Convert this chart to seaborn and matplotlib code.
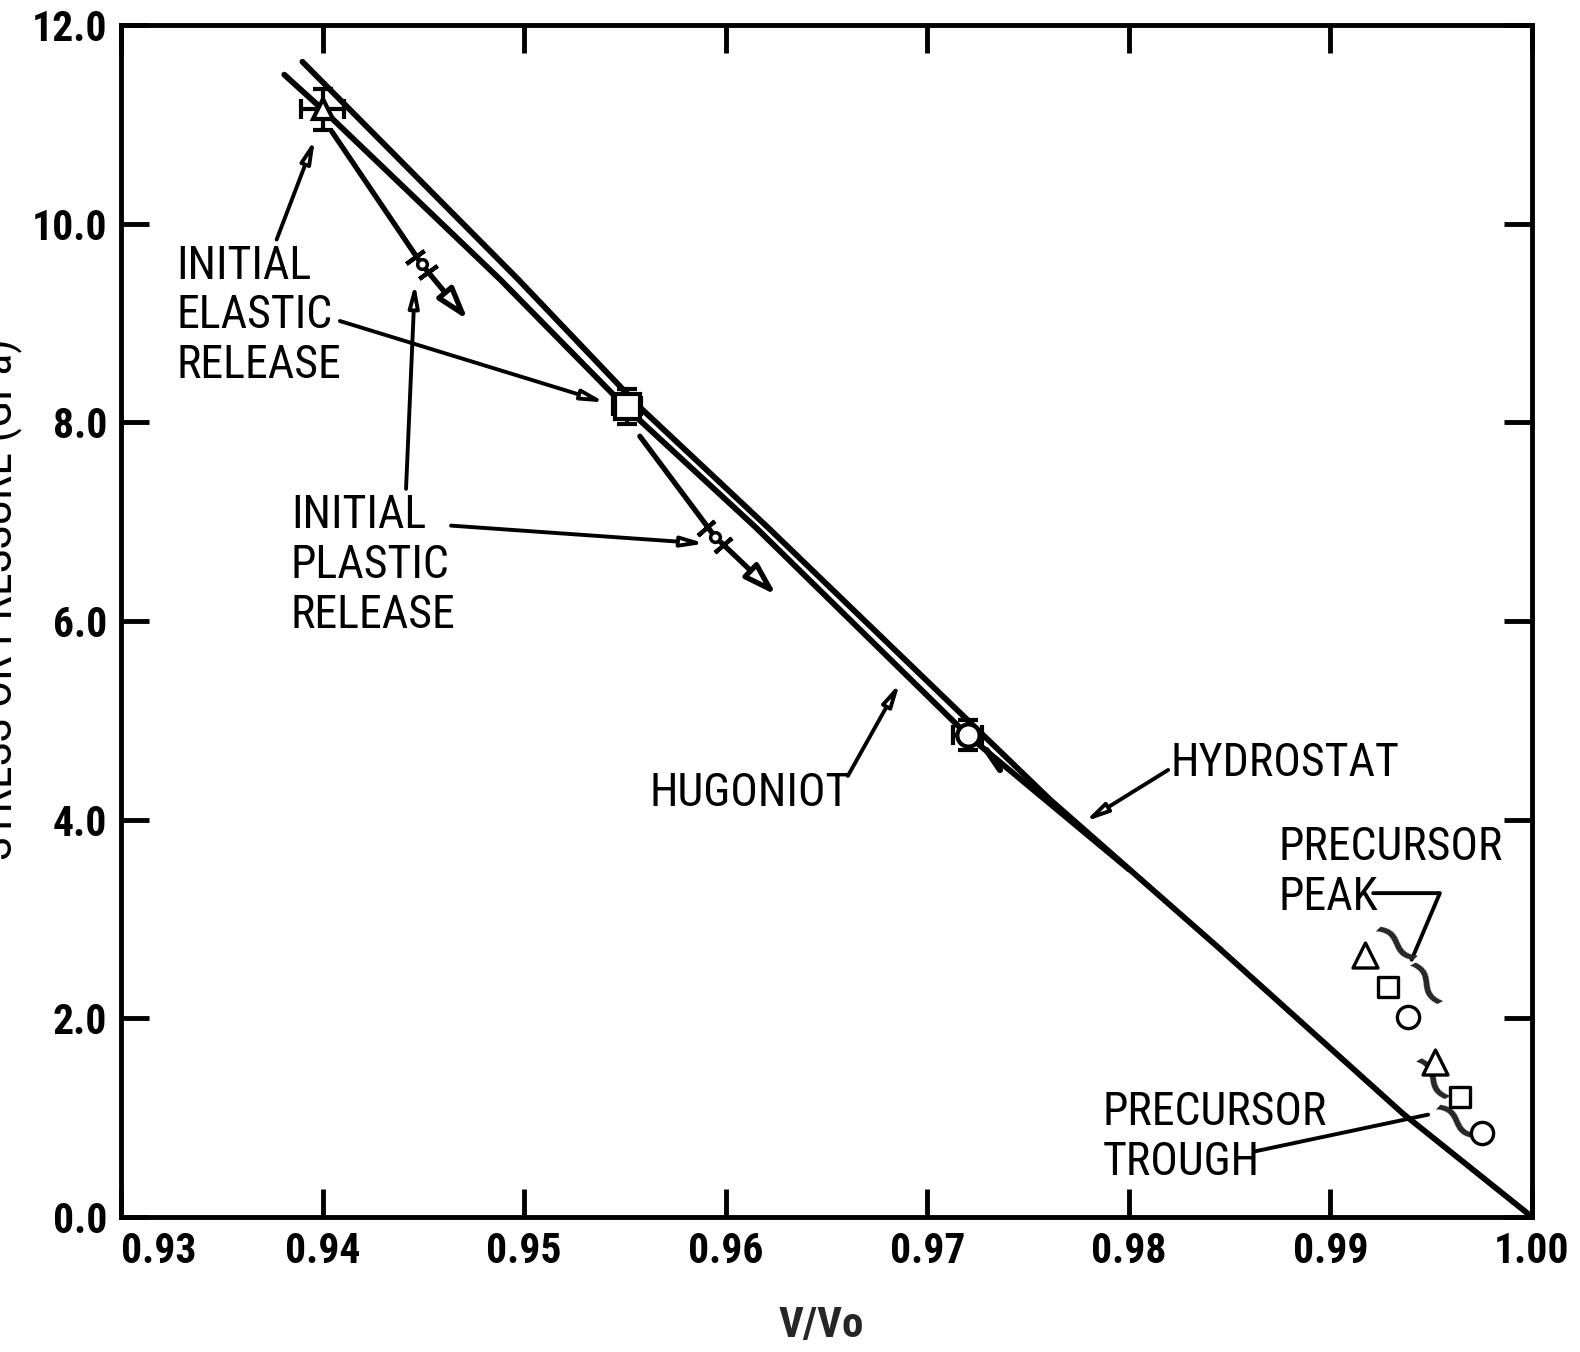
#!/usr/bin/env python3
"""Stress / pressure vs V/Vo : hugoniot, hydrostat, release paths and precursor states."""

import numpy as np
import matplotlib

matplotlib.use("Agg")
import matplotlib.pyplot as plt
import seaborn as sns

# --- data ---
hydro_x = [0.9390, 0.9497, 0.9558, 0.9621, 0.9761, 0.9844, 0.9936, 1.0000]
hydro_y = [11.63, 9.44, 8.14, 6.94, 4.20, 2.72, 1.04, 0.00]

hug_x = [0.9381, 0.9400, 0.9488, 0.9551, 0.9615, 0.9720, 0.9800]
hug_y = [11.50, 11.15, 9.44, 8.14, 6.94, 4.85, 3.50]

# shock states (triangle, square, circle) with error bars
state_x = [0.9400, 0.9551, 0.9720]
state_y = [11.15, 8.16, 4.85]
state_xerr = [0.00107, 0.0007, 0.0007]
state_yerr = [0.21, 0.18, 0.15]
state_marker = ["^", "s", "o"]
state_size = [15, 18, 16]

# release paths: start, initial plastic release point, arrow tip
rel1_x = [0.94045, 0.94492, 0.94721]
rel1_y = [10.93, 9.59, 9.03]
rel2_x = [0.95574, 0.95946, 0.96252]
rel2_y = [7.86, 6.85, 6.26]
rel3_x = [0.97294, 0.97361]
rel3_y = [4.70, 4.50]

# precursor states
peak_x = [0.99171, 0.99285, 0.99384]
peak_y = [2.64, 2.31, 2.01]
trough_x = [0.99518, 0.99642, 0.99751]
trough_y = [1.56, 1.21, 0.85]
prec_marker = ["^", "s", "o"]
prec_size = [18, 14.5, 16]

xticks = [0.93, 0.94, 0.95, 0.96, 0.97, 0.98, 0.99, 1.00]
xticklabels = ["0.93", "0.94", "0.95", "0.96", "0.97", "0.98", "0.99", "1.00"]
yticks = [0, 2, 4, 6, 8, 10, 12]
yticklabels = ["0.0", "2.0", "4.0", "6.0", "8.0", "10.0", "12.0"]

sns.set_theme(style="ticks")
plt.rcParams["font.family"] = ["Roboto Condensed", "Roboto", "DejaVu Sans"]
plt.rcParams["font.stretch"] = "condensed"

fig = plt.figure(figsize=(15.8, 13.52), dpi=100)
ax = fig.add_axes([0.0766, 0.0999, 0.8930, 0.8816])
ax.set_xlim(0.93, 1.00)
ax.set_ylim(0, 12)

# curves
sns.lineplot(x=hydro_x, y=hydro_y, ax=ax, color="black", lw=4.2, sort=False,
             estimator=None, zorder=3)
sns.lineplot(x=hug_x, y=hug_y, ax=ax, color="black", lw=4.2, sort=False,
             estimator=None, zorder=3)

# release paths
arrow_kw = dict(arrowstyle="-|>,head_length=1.6,head_width=0.5", lw=3.8,
                ec="black", fc="white", shrinkA=0, shrinkB=0)
for rx, ry in [(rel1_x, rel1_y), (rel2_x, rel2_y)]:
    sns.lineplot(x=rx[:2], y=ry[:2], ax=ax, color="black", lw=3.8, sort=False,
                 estimator=None, zorder=3)
    ax.annotate("", xy=(rx[2], ry[2]), xytext=(rx[1], ry[1]),
                arrowprops=arrow_kw, zorder=3)
    # small release point with cross ticks
    p0 = ax.transData.transform((rx[0], ry[0]))
    p2 = ax.transData.transform((rx[2], ry[2]))
    ang = np.degrees(np.arctan2(p2[1] - p0[1], p2[0] - p0[0]))
    dx = 0.14 * (rx[2] - rx[1])
    dy = 0.14 * (ry[2] - ry[1])
    ax.plot([rx[1] - dx, rx[1] + dx], [ry[1] - dy, ry[1] + dy], ls="none",
            marker=(2, 2, ang), ms=16, mew=3, color="black", zorder=5)
    ax.plot(rx[1], ry[1], marker="o", ms=7, mfc="white", mec="black", mew=2.5,
            ls="none", zorder=6)
sns.lineplot(x=rel3_x, y=rel3_y, ax=ax, color="black", lw=4.5, sort=False,
             estimator=None, zorder=3)

# shock states with error bars
ax.errorbar(state_x, state_y, xerr=state_xerr, yerr=state_yerr, fmt="none",
            ecolor="black", elinewidth=3, capsize=7, capthick=3, zorder=6)
for x, y, m, s in zip(state_x, state_y, state_marker, state_size):
    ax.plot(x, y, marker=m, ms=s, mfc="white", mec="black", mew=3, ls="none",
            zorder=7)

# precursor points
for xs, ys in [(peak_x, peak_y), (trough_x, trough_y)]:
    for x, y, m, s in zip(xs, ys, prec_marker, prec_size):
        sns.scatterplot(x=[x], y=[y], ax=ax, marker=m, s=s ** 2, color="white",
                        edgecolor="black", linewidth=2.4, zorder=7)

# labels and leaders
txt_kw = dict(fontsize=33, color="black", linespacing=1.17)
lead_kw = dict(arrowstyle="-|>,head_length=1.1,head_width=0.25", lw=2.8,
               ec="black", fc="white", shrinkA=0, shrinkB=0)

ax.text(0.93273, 9.80, "INITIAL\nELASTIC\nRELEASE", ha="left", va="top", **txt_kw)
ax.annotate("", xy=(0.93962, 10.85), xytext=(0.93772, 9.84), arrowprops=lead_kw)
ax.annotate("", xy=(0.95401, 8.20), xytext=(0.94086, 9.02), arrowprops=lead_kw)

ax.text(0.93843, 7.29, "INITIAL\nPLASTIC\nRELEASE", ha="left", va="top", **txt_kw)
ax.annotate("", xy=(0.94458, 9.40), xytext=(0.94414, 7.33), arrowprops=lead_kw)
ax.annotate("", xy=(0.95897, 6.78), xytext=(0.94637, 6.96), arrowprops=lead_kw)

ax.text(0.95624, 4.27, "HUGONIOT", ha="left", va="center", **txt_kw)
ax.annotate("", xy=(0.96864, 5.375), xytext=(0.96606, 4.44), arrowprops=lead_kw)

ax.text(0.98208, 4.57, "HYDROSTAT", ha="left", va="center", **txt_kw)
ax.annotate("", xy=(0.97782, 3.98), xytext=(0.98195, 4.50), arrowprops=lead_kw)

ax.text(0.98744, 3.95, "PRECURSOR\nPEAK", ha="left", va="top", **txt_kw)
ax.annotate("", xy=(0.99403, 2.59), xytext=(0.99212, 3.26),
            arrowprops=dict(arrowstyle="-", lw=2.8, color="black", shrinkA=0,
                            shrinkB=0,
                            connectionstyle="angle,angleA=0,angleB=67,rad=0"))

ax.text(0.97871, 1.28, "PRECURSOR\nTROUGH", ha="left", va="top", **txt_kw)
ax.annotate("", xy=(0.99485, 1.03), xytext=(0.98625, 0.66),
            arrowprops=dict(arrowstyle="-", lw=2.8, color="black", shrinkA=0,
                            shrinkB=0))

# squiggle brackets next to the precursor points
for x, y, rot in [(0.99305, 2.68, -45), (0.99438, 2.27, -62),
                  (0.99473, 1.31, -60), (0.99602, 0.89, -45)]:
    ax.text(x, y, "~", fontsize=54, rotation=rot, ha="center", va="center",
            family="DejaVu Sans", fontstretch="normal")

# axes styling
ax.set_xticks(xticks)
ax.set_xticklabels(xticklabels)
ax.set_yticks(yticks)
ax.set_yticklabels(yticklabels)
ax.tick_params(direction="in", length=20, width=3.5, top=True, right=True,
               labelsize=30, pad=10, colors="black")
for lab in ax.get_xticklabels() + ax.get_yticklabels():
    lab.set_fontweight("bold")
ax.get_xticklabels()[0].set_horizontalalignment("left")
for sp in ax.spines.values():
    sp.set_linewidth(3.5)
    sp.set_color("black")

ax.set_xlabel("V/Vo", fontsize=31, fontweight="bold")
ax.xaxis.set_label_coords(0.496, -0.074)
ax.set_ylabel("STRESS OR PRESSURE (GPa)", fontsize=33, color="black")
ax.yaxis.set_label_coords(-0.070, 0.518)

fig.savefig("out.png", dpi=100, facecolor="white")
